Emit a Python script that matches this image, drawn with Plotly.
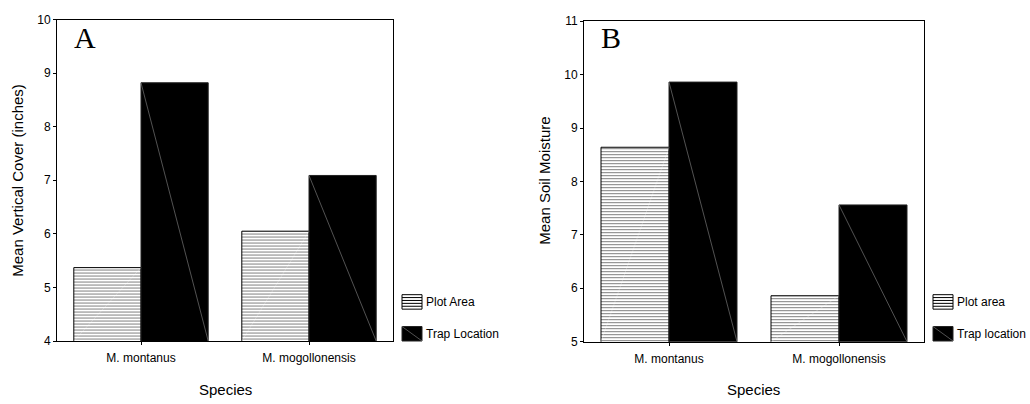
import plotly.graph_objects as go

W, H = 1030, 404

species = ["M. montanus", "M. mogollonensis"]
cover_plot_area = [5.37, 6.05]
cover_trap_location = [8.82, 7.09]
moist_plot_area = [8.64, 5.86]
moist_trap_location = [9.86, 7.56]
cover_ticks = [4, 5, 6, 7, 8, 9, 10]
moist_ticks = [5, 6, 7, 8, 9, 10, 11]

FONT = "Liberation Sans, Arial, sans-serif"

def px(x):
    return x / W

def py(y):
    return 1 - y / H

fig = go.Figure()

panels = [
    dict(xa="x", ya="y", plot=cover_plot_area, trap=cover_trap_location, ticks=cover_ticks,
         xdom=(57, 393), ydom=(13, 346), letter="A", ytitle="Mean Vertical Cover (inches)",
         ytx=18, stx=225, leg=(402, "Plot Area", "Trap Location")),
    dict(xa="x2", ya="y2", plot=moist_plot_area, trap=moist_trap_location, ticks=moist_ticks,
         xdom=(584, 924), ydom=(14.7, 346.7), letter="B", ytitle="Mean Soil Moisture",
         ytx=545, stx=753, leg=(933, "Plot area", "Trap location")),
]

pos = list(range(len(species)))
shapes = []
annotations = []

for i, p in enumerate(panels):
    ymin, ymax = p["ticks"][0], p["ticks"][-1]
    fig.add_trace(go.Bar(
        x=pos, y=p["plot"], offset=-0.4, width=0.4, xaxis=p["xa"], yaxis=p["ya"],
        marker=dict(color="white", line=dict(color="black", width=1),
                    pattern=dict(shape="-", size=3, solidity=0.34, fgcolor="black", bgcolor="white")),
        showlegend=False))
    fig.add_trace(go.Bar(
        x=pos, y=p["trap"], offset=0, width=0.4, xaxis=p["xa"], yaxis=p["ya"],
        marker=dict(color="black", line=dict(color="#222", width=1)),
        showlegend=False))
    dx, dy = [], []
    for k, v in zip(pos, p["trap"]):
        dx += [k, k + 0.4, None]
        dy += [v, ymin, None]
    fig.add_trace(go.Scatter(x=dx, y=dy, mode="lines", xaxis=p["xa"], yaxis=p["ya"],
                             line=dict(color="#8a8a8a", width=0.6), showlegend=False,
                             hoverinfo="skip", cliponaxis=True))
    wx, wy = [], []
    for k, v in zip(pos, p["plot"]):
        wx += [k - 0.4, k, None]
        wy += [ymin, v, None]
    fig.add_trace(go.Scatter(x=wx, y=wy, mode="lines", xaxis=p["xa"], yaxis=p["ya"],
                             line=dict(color="rgba(255,255,255,0.45)", width=0.6), showlegend=False,
                             hoverinfo="skip", cliponaxis=True))
    suffix = "" if i == 0 else str(i + 1)
    fig.update_layout(**{
        "xaxis" + suffix: dict(domain=[px(p["xdom"][0]), px(p["xdom"][1])], range=[-0.5, 1.5],
                               tickvals=pos, ticktext=species, ticks="outside", ticklen=3,
                               tickcolor="black", showline=True, linecolor="black", linewidth=1,
                               mirror=True, showgrid=False, zeroline=False, anchor=p["ya"],
                               ticklabelstandoff=3,
                               tickfont=dict(family=FONT, size=12, color="black"), fixedrange=True),
        "yaxis" + suffix: dict(domain=[py(p["ydom"][1]), py(p["ydom"][0])], range=[ymin, ymax],
                               tickvals=p["ticks"], ticks="outside", ticklen=3, tickcolor="black",
                               showline=True, linecolor="black", linewidth=1, mirror=True,
                               showgrid=False, zeroline=False, anchor=p["xa"],
                               tickfont=dict(family=FONT, size=12, color="black"), fixedrange=True),
    })
    # panel letter
    annotations.append(dict(xref="paper", yref="paper", x=px(p["xdom"][0] + 15), y=py(32),
                            text=p["letter"], showarrow=False, xanchor="left", yanchor="middle",
                            font=dict(family="Liberation Serif, Times New Roman, serif", size=30, color="black")))
    # axis titles
    annotations.append(dict(xref="paper", yref="paper", x=px(p["ytx"]), y=py(180),
                            text=p["ytitle"], textangle=-90, showarrow=False,
                            xanchor="center", yanchor="middle",
                            font=dict(family=FONT, size=15, color="black")))
    annotations.append(dict(xref="paper", yref="paper", x=px(p["stx"]), y=py(396),
                            text="Species", showarrow=False, xanchor="center", yanchor="middle",
                            font=dict(family=FONT, size=15, color="black")))
    # legend
    lx = p["leg"][0]
    bw, bh = 20, 15
    y1 = 298
    shapes.append(dict(type="rect", xref="paper", yref="paper", x0=px(lx), x1=px(lx + bw),
                       y0=py(y1 + bh), y1=py(y1), fillcolor="white", line=dict(color="black", width=1)))
    for j in range(1, 5):
        yy = y1 + j * 3
        shapes.append(dict(type="line", xref="paper", yref="paper", x0=px(lx), x1=px(lx + bw),
                           y0=py(yy), y1=py(yy), line=dict(color="black", width=1)))
    y2 = 331
    shapes.append(dict(type="rect", xref="paper", yref="paper", x0=px(lx), x1=px(lx + bw),
                       y0=py(y2 + bh), y1=py(y2), fillcolor="black", line=dict(color="#222", width=1)))
    shapes.append(dict(type="line", xref="paper", yref="paper", x0=px(lx), x1=px(lx + bw),
                       y0=py(y2), y1=py(y2 + bh), line=dict(color="#8a8a8a", width=0.6)))
    annotations.append(dict(xref="paper", yref="paper", x=px(lx + bw + 2), y=py(y1 + 8),
                            text=p["leg"][1], showarrow=False, xanchor="left", yanchor="middle",
                            font=dict(family=FONT, size=12, color="black")))
    annotations.append(dict(xref="paper", yref="paper", x=px(lx + bw + 2), y=py(y2 + 8),
                            text=p["leg"][2], showarrow=False, xanchor="left", yanchor="middle",
                            font=dict(family=FONT, size=12, color="black")))

fig.update_layout(width=W, height=H, margin=dict(l=0, r=0, t=0, b=0),
                  paper_bgcolor="white", plot_bgcolor="white", barmode="overlay",
                  shapes=shapes, annotations=annotations, showlegend=False)

fig.write_html("out.html", config={"displayModeBar": False})
